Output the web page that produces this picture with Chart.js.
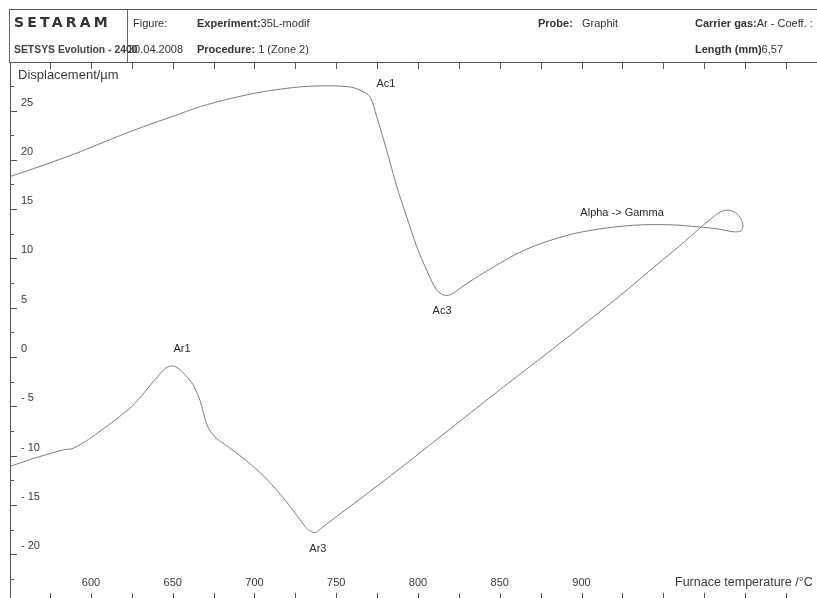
<!DOCTYPE html>
<html>
<head>
<meta charset="utf-8">
<script src="https://cdn.jsdelivr.net/npm/chart.js@4.4.1/dist/chart.umd.min.js"></script>
<style>
  html, body { margin: 0; padding: 0; background: #fff; }
  #wrap { position: relative; width: 817px; height: 598px; overflow: hidden; font-family: 'Liberation Sans', Arial, sans-serif; color: #333; }
  #chart { position: absolute; left: 0; top: 0; }
  #hdr { position: absolute; left: 9px; top: 9px; width: 808px; height: 53px; border-top: 1px solid #555; border-left: 1px solid #666; }
  #hdr .div { position: absolute; left: 117px; top: 0; width: 1px; height: 53px; background: #666; }
  .t { position: absolute; white-space: nowrap; font-size: 11px; line-height: 13px; color: #333; }
  .b { font-weight: bold; }
  .logo { font-family: 'DejaVu Sans', sans-serif; font-weight: 900; font-size: 14px; letter-spacing: 3.2px; color: #333; }
</style>
</head>
<body>
<div id="wrap">
  <canvas id="chart" width="817" height="598"></canvas>
  <div id="hdr"><div class="div"></div></div>
  <div class="t logo" style="left:14px; top:16px;">SETARAM</div>
  <div class="t b" style="left:14px; top:43px; font-size:10.4px; color:#444;">SETSYS Evolution - 2400</div>
  <div class="t" style="left:133px; top:17px;">Figure:</div>
  <div class="t" style="left:128px; top:43px;">30.04.2008</div>
  <div class="t" style="left:197px; top:17px;"><span class="b">Experiment:</span>35L-modif</div>
  <div class="t" style="left:197px; top:43px;"><span class="b">Procedure:</span> 1 (Zone 2)</div>
  <div class="t" style="left:538px; top:17px;"><span class="b">Probe:</span>&nbsp;&nbsp;&nbsp;Graphit</div>
  <div class="t" style="left:695px; top:17px;"><span class="b">Carrier gas:</span>Ar - Coeff. :</div>
  <div class="t" style="left:695px; top:43px;"><span class="b">Length (mm)</span>6,57</div>
</div>
<script>
// Dilatometer run: heating branch then cooling branch (temperature in °C, displacement in µm)
const heatTemp = [550.5, 570, 590, 605, 620, 636, 650, 667, 685, 705, 728, 745, 758, 764,
  770.6, 774.7, 780.8, 787, 793.1, 799.2, 805.3, 811.4, 815.5, 819.6, 826, 834, 850, 862,
  875, 895, 916, 936, 956, 971, 983, 993, 997.6, 998.8];
const heatDisp = [18.3, 19.4, 20.6, 21.6, 22.6, 23.6, 24.4, 25.4, 26.2, 26.9, 27.4, 27.5, 27.4, 27.1,
  26.4, 24.4, 21.0, 17.3, 14.2, 11.2, 8.8, 6.8, 6.3, 6.3, 7.0, 7.9, 9.5, 10.6,
  11.5, 12.5, 13.1, 13.4, 13.4, 13.2, 13.0, 12.7, 12.8, 13.3];

const coolTemp = [998.8, 997.6, 994.5, 989.6, 984.7, 979.8, 972.5, 960.2, 944.9, 927.8, 911.3,
  880.7, 850.2, 819.6, 789, 764.5, 749.2, 741.3, 737, 732.7, 727.8, 718.7, 706.4, 694.2,
  683.8, 675.8, 671, 666.7, 662.4, 658.1, 653.8, 650.2, 645.9, 642.2, 636.1, 625.7, 614.7,
  604.9, 596.3, 588.4, 583.5, 574.9, 562.7, 550.5];
const coolDisp = [13.3, 14.0, 14.6, 14.9, 14.7, 14.1, 13.1, 11.3, 9.2, 6.8, 4.6,
  0.6, -3.3, -7.3, -11.3, -14.4, -16.3, -17.3, -17.8, -17.5, -16.5, -14.5, -12.2, -10.4,
  -9.1, -8.1, -6.9, -4.4, -2.8, -1.9, -1.2, -0.9, -1.1, -1.7, -2.9, -4.9, -6.4,
  -7.6, -8.6, -9.3, -9.4, -9.8, -10.4, -11.1];

const xTicks = [600, 650, 700, 750, 800, 850, 900];
const yTicks = [25, 20, 15, 10, 5, 0, -5, -10, -15, -20];

const notes = [
  { text: 'Ac1', t: 780.4, d: 27.7 },
  { text: 'Ac3', t: 814.7, d: 4.7 },
  { text: 'Ar1', t: 655.7, d: 0.8 },
  { text: 'Ar3', t: 738.8, d: -19.5 },
  { text: 'Alpha -> Gamma', t: 924.8, d: 14.6 },
];

const LINE = '#7d7d7d';
const AXIS = '#555';
const TEXT = '#3a3a3a';
const FONT = "'Liberation Sans', Arial, sans-serif";

function pts(xs, ys) {
  return xs.map((x, i) => ({ x, y: ys[i] }));
}

// Frame, inward ticks, tick labels, titles and notes (the SETSYS print style)
const framePlugin = {
  id: 'frame',
  afterDraw(chart) {
    const { ctx, chartArea: a, scales: { x, y } } = chart;
    ctx.save();
    ctx.strokeStyle = AXIS;
    ctx.lineWidth = 1;
    ctx.beginPath();
    ctx.moveTo(a.left, a.top + 0.5);
    ctx.lineTo(a.right, a.top + 0.5);
    ctx.moveTo(a.left + 0.5, a.top);
    ctx.lineTo(a.left + 0.5, a.bottom);
    // y ticks pointing into the plot
    for (let v = -22.5; v <= 27.5; v += 2.5) {
      const py = Math.round(y.getPixelForValue(v)) + 0.5;
      const len = v % 5 === 0 ? 7 : 4;
      ctx.moveTo(a.left, py);
      ctx.lineTo(a.left + len, py);
    }
    // top and bottom ticks every 25 °C
    for (let t = 575; t <= 1025; t += 25) {
      const px = Math.round(x.getPixelForValue(t)) + 0.5;
      ctx.moveTo(px, a.top);
      ctx.lineTo(px, a.top + 7);
      ctx.moveTo(px, a.bottom);
      ctx.lineTo(px, a.bottom - 5);
    }
    ctx.stroke();

    ctx.fillStyle = TEXT;
    ctx.textBaseline = 'middle';
    ctx.font = `11px ${FONT}`;
    ctx.textAlign = 'left';
    yTicks.forEach(v => ctx.fillText(v < 0 ? '- ' + Math.abs(v) : String(v), a.left + 11, y.getPixelForValue(v) - 8));
    ctx.textAlign = 'center';
    xTicks.forEach(t => ctx.fillText(String(t), x.getPixelForValue(t), a.bottom - 15));
    ctx.textAlign = 'left';
    ctx.font = `12.5px ${FONT}`;
    ctx.fillText('Furnace temperature /°C', 675, a.bottom - 15);
    ctx.font = `13px ${FONT}`;
    ctx.fillText('Displacement/µm', a.left + 8, a.top + 13);

    ctx.font = `11px ${FONT}`;
    ctx.fillStyle = '#2a2a2a';
    ctx.textAlign = 'center';
    notes.forEach(n => ctx.fillText(n.text, x.getPixelForValue(n.t), y.getPixelForValue(n.d)));
    ctx.restore();
  },
};

new Chart(document.getElementById('chart'), {
  type: 'scatter',
  data: {
    datasets: [
      { label: 'Heating', data: pts(heatTemp, heatDisp) },
      { label: 'Cooling', data: pts(coolTemp, coolDisp) },
    ].map(ds => ({
      ...ds,
      showLine: true,
      borderColor: LINE,
      borderWidth: 1,
      pointRadius: 0,
      tension: 0.3,
      fill: false,
    })),
  },
  options: {
    responsive: false,
    animation: false,
    events: [],
    layout: { padding: { left: 10, top: 62, right: 0, bottom: 0 } },
    plugins: { legend: { display: false }, tooltip: { enabled: false } },
    scales: {
      x: { type: 'linear', display: false, min: 550.5, max: 1044 },
      y: { type: 'linear', display: false, min: -24.44, max: 29.92 },
    },
  },
  plugins: [framePlugin],
});
</script>
</body>
</html>
